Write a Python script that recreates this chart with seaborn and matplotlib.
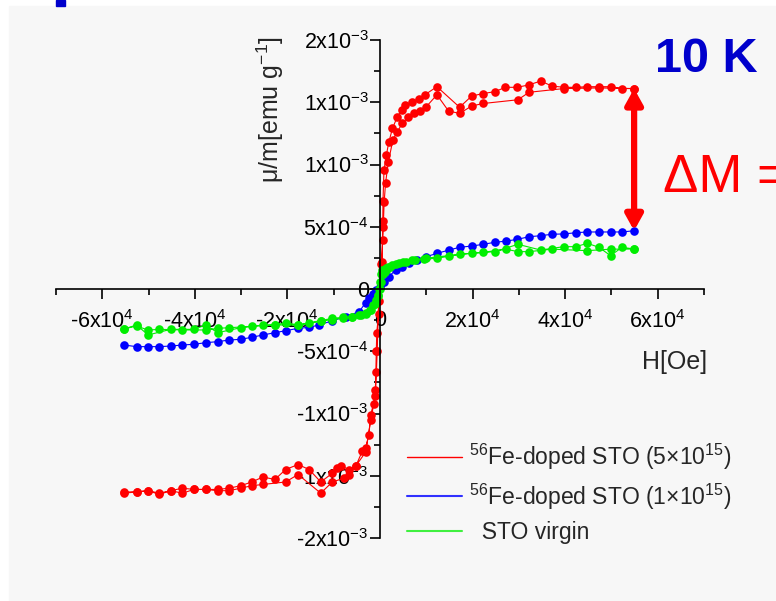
import numpy as np
import pandas as pd
import matplotlib
matplotlib.use('Agg')
import matplotlib.pyplot as plt
from matplotlib.lines import Line2D
from matplotlib.patches import Rectangle
from matplotlib.ticker import MultipleLocator
import seaborn as sns

# hysteresis loops at 10 K, field in Oe, moment in units of 1e-3 emu/g
red_h = [54900, 52300, 49800, 47300, 44700, 42300, 39700, 37200, 34700, 32200, 29700, 27100,
         24800, 22300, 19800, 17200, 12300, 9700, 8400, 7000, 5500, 4700, 3700, 2700, 1900,
         1400, 860, 650, 600, 550, 450, 200, -300, -700, -800, -900, -1000, -1400, -2000,
         -2400, -3100, -3800, -5200, -6700, -8500, -9200, -10300, -12800, -15300, -17700,
         -20400, -22700, -25300, -27700, -30100, -32600, -35100, -37600, -40200, -42700,
         -45200, -47700, -50100, -52600, -55300,
         -55300, -52600, -50100, -47700, -45200, -42700, -40200, -37600, -35100, -32600,
         -30100, -27700, -25300, -20400, -17700, -12800, -10300, -7800, -6700, -5200, -3100,
         -2000, -1000, -600, -300, 300, 700, 900, 1200, 1800, 2800, 3700, 4800, 6100, 7300,
         8600, 9900, 12300, 14800, 17200, 19800, 22300, 29800, 32200, 39700, 47300, 54900]
red_m = [1.61, 1.61, 1.625, 1.625, 1.625, 1.62, 1.62, 1.63, 1.67, 1.64, 1.62, 1.62,
         1.585, 1.57, 1.55, 1.46, 1.625, 1.56, 1.53, 1.50, 1.48, 1.44, 1.38, 1.29, 1.18,
         1.08, 0.955, 0.71, 0.55, 0.39, 0.22, 0.05, -0.2, -0.35, -0.5, -0.67, -0.81, -0.92, -1.01,
         -1.17, -1.28, -1.30, -1.42, -1.45, -1.42, -1.44, -1.48, -1.55, -1.45, -1.41,
         -1.45, -1.53, -1.51, -1.55, -1.58, -1.60, -1.61, -1.61, -1.61, -1.60,
         -1.62, -1.64, -1.62, -1.63, -1.63,
         -1.64, -1.63, -1.62, -1.65, -1.62, -1.64, -1.61, -1.61, -1.62, -1.62,
         -1.60, -1.58, -1.57, -1.55, -1.49, -1.64, -1.55, -1.52, -1.49, -1.42, -1.31,
         -1.05, -0.86, -0.5, -0.1, 0.2, 0.5, 0.7, 0.85, 1.02, 1.20, 1.26, 1.33, 1.38, 1.41,
         1.43, 1.46, 1.56, 1.43, 1.41, 1.47, 1.49, 1.52, 1.58, 1.61, 1.615, 1.61]

blue_h = [-55300, -52600, -50100, -47700, -45200, -42700, -40200, -37600, -35100, -32600,
          -30100, -27700, -25300, -22700, -20400, -17700, -15300, -13200, -10300, -7400,
          -4500, -3100, -2400, -1600, -800, 0, 860, 1900, 3400, 4800, 6300, 8000, 9900,
          12400, 14900, 17200, 19800, 22300, 24800, 27300, 29700, 32200, 34700, 37200,
          39700, 42300, 44800, 47300, 49800, 52300, 54900]
blue_m = [-0.45, -0.463, -0.463, -0.463, -0.458, -0.45, -0.444, -0.431, -0.423, -0.41,
          -0.404, -0.388, -0.369, -0.351, -0.335, -0.316, -0.308, -0.289, -0.255, -0.222,
          -0.182, -0.11, -0.07, -0.04, -0.01, 0.02, 0.059, 0.099, 0.153, 0.18, 0.206, 0.235, 0.259,
          0.287, 0.313, 0.335, 0.345, 0.359, 0.375, 0.385, 0.399, 0.42, 0.428, 0.44,
          0.442, 0.452, 0.458, 0.458, 0.458, 0.458, 0.468]

green_h = [54900, 52300, 49800, 47300, 44800, 42300, 39700, 34700, 29800, 24800, 19800,
           14800, 9900, 7500, 5600, 4000, 2700, 1800, 1200, 500, 200, 0, -200, -500, -900,
           -1500, -2200, -3100, -4500, -6000, -8000, -10300, -12800, -15300, -17700, -20400,
           -22700, -25300, -30100, -35100, -37600, -40200, -45200, -50100, -52600, -55300,
           -55300, -52600, -50100, -47700, -42700, -37600, -35100, -32600, -27700, -22700,
           -17700, -12800, -10300, -8000, -6000, -4000, -3000, -2000, -1000, -400, 0, 300,
           700, 1000, 1500, 2200, 3500, 5000, 7000, 9500, 12400, 17200, 22300, 27300,
           29800, 32200, 37200, 44800, 49800, 54900]
green_m = [0.321, 0.335, 0.268, 0.335, 0.367, 0.34, 0.34, 0.313, 0.359, 0.30, 0.287,
           0.268, 0.247, 0.235, 0.22, 0.205, 0.193, 0.18, 0.165, 0.153, 0.12, 0.06, 0.0, -0.06, -0.088,
           -0.13, -0.17, -0.195, -0.21, -0.222, -0.228, -0.235, -0.254, -0.271, -0.289, -0.271,
           -0.289, -0.289, -0.311, -0.351, -0.289, -0.324, -0.324, -0.369, -0.289, -0.321,
           -0.321, -0.297, -0.33, -0.324, -0.329, -0.329, -0.316, -0.311, -0.30, -0.289,
           -0.29, -0.26, -0.245, -0.235, -0.225, -0.21, -0.2, -0.17, -0.12, -0.05, 0.0, 0.06,
           0.12, 0.14, 0.16, 0.18, 0.2, 0.215, 0.23, 0.24, 0.247, 0.279, 0.295, 0.319,
           0.30, 0.30, 0.32, 0.308, 0.32, 0.321]

series_names = ['$^{56}$Fe-doped STO (5×10$^{15}$)', '$^{56}$Fe-doped STO (1×10$^{15}$)', '  STO virgin']
series_colors = ['#ff0000', '#0000ff', '#00ee00']
legend_colors = ['#ff0000', '#3030ff', '#40f040']

x_ticks = [-6e4, -4e4, -2e4, 0, 2e4, 4e4, 6e4]
x_labels = ['-6x10$^{4}$', '-4x10$^{4}$', '-2x10$^{4}$', '0', '2x10$^{4}$', '4x10$^{4}$', '6x10$^{4}$']
y_ticks = [2e-3, 1.5e-3, 1e-3, 5e-4, 0, -5e-4, -1e-3, -1.5e-3, -2e-3]
y_labels = ['2x10$^{-3}$', '1x10$^{-3}$', '1x10$^{-3}$', '5x10$^{-4}$', '0',
            '-5x10$^{-4}$', '-1x10$^{-3}$', '-1x10$^{-3}$', '-2x10$^{-3}$']

sns.set_style('ticks')
plt.rcParams['font.family'] = ['Liberation Sans', 'DejaVu Sans']
plt.rcParams['mathtext.fontset'] = 'custom'
plt.rcParams['mathtext.rm'] = 'Liberation Sans'
plt.rcParams['mathtext.default'] = 'regular'

W, H = 776, 601
fig = plt.figure(figsize=(W / 100, H / 100), dpi=100, facecolor='white')
# slide background + cut-off title block
fig.patches.append(Rectangle((9 / W, 0), 1, 1 - 6 / H, transform=fig.transFigure,
                             color='#f7f7f7', zorder=-10))
fig.patches.append(Rectangle((56 / W, 1 - 6 / H), 9 / W, 6 / H, transform=fig.transFigure,
                             color='#0000cc', zorder=-10))

ax = fig.add_axes([56 / W, 1 - 538 / H, 648 / W, 498 / H])
ax.set_facecolor('none')
ax.set_zorder(2)

frames = [
    pd.DataFrame({'H': red_h, 'M': np.array(red_m) * 1e-3}),
    pd.DataFrame({'H': blue_h, 'M': np.array(blue_m) * 1e-3}),
    pd.DataFrame({'H': green_h, 'M': np.array(green_m) * 1e-3}),
]
for df, c in zip(frames, series_colors):
    sns.lineplot(data=df, x='H', y='M', sort=False, estimator=None, color=c,
                 marker='o', markersize=6.2, markeredgewidth=0, linewidth=0.8,
                 ax=ax, legend=False)

ax.set_xlim(-7e4, 7e4)
ax.set_ylim(-2e-3, 2e-3)
for s in ['top', 'right']:
    ax.spines[s].set_visible(False)
ax.spines['left'].set_position(('data', 0))
ax.spines['bottom'].set_position(('data', 0))
for s in ['left', 'bottom']:
    ax.spines[s].set_linewidth(1.2)
    ax.spines[s].set_color('black')

ax.set_xticks(x_ticks)
ax.set_xticklabels(x_labels)
ax.set_yticks(y_ticks)
ax.set_yticklabels(y_labels)
ax.xaxis.set_minor_locator(MultipleLocator(1e4))
ax.yaxis.set_minor_locator(MultipleLocator(2.5e-4))
ax.tick_params(which='major', direction='out', length=7, width=1.2, labelsize=15.5,
               colors='black')
ax.tick_params(which='minor', direction='out', length=4, width=1.2, colors='black')
ax.tick_params(axis='x', pad=8)
ax.tick_params(axis='y', pad=1)
ax.set_xlabel('')
ax.set_ylabel('')

fig.text(707 / W, 1 - 362 / H, 'H[Oe]', ha='right', va='center', fontsize=18)
fig.text(270 / W, 1 - 110 / H, 'μ/m[emu g$^{-1}$]', rotation=90, ha='center',
         va='center', fontsize=18)

fig.text(655 / W, 1 - 72 / H, '10 K', color='#0000cc', fontsize=35, fontweight='bold',
         ha='left', va='baseline')
fig.text(663 / W, 1 - 192 / H, 'ΔM =', color='#ff0000', fontsize=38, ha='left',
         va='baseline')

ax.annotate('', xy=(red_h[0], red_m[0] * 1e-3), xytext=(blue_h[-1], blue_m[-1] * 1e-3),
            arrowprops=dict(arrowstyle='<|-|>,head_length=0.45,head_width=0.25',
                            mutation_scale=20, lw=4.5, color='#ff0000',
                            shrinkA=0, shrinkB=0))

handles = [Line2D([], [], color=c, lw=lw) for c, lw in zip(legend_colors, [1.0, 1.5, 1.5])]
ax.legend(handles, series_names, loc='upper left', bbox_to_anchor=(407 / W, 1 - 442 / H),
          bbox_transform=fig.transFigure, frameon=False, fontsize=16.5, handlelength=2.4,
          handletextpad=0.3, borderpad=0, borderaxespad=0, labelspacing=0.4)

fig.savefig('out.png', dpi=100, facecolor=fig.get_facecolor())
